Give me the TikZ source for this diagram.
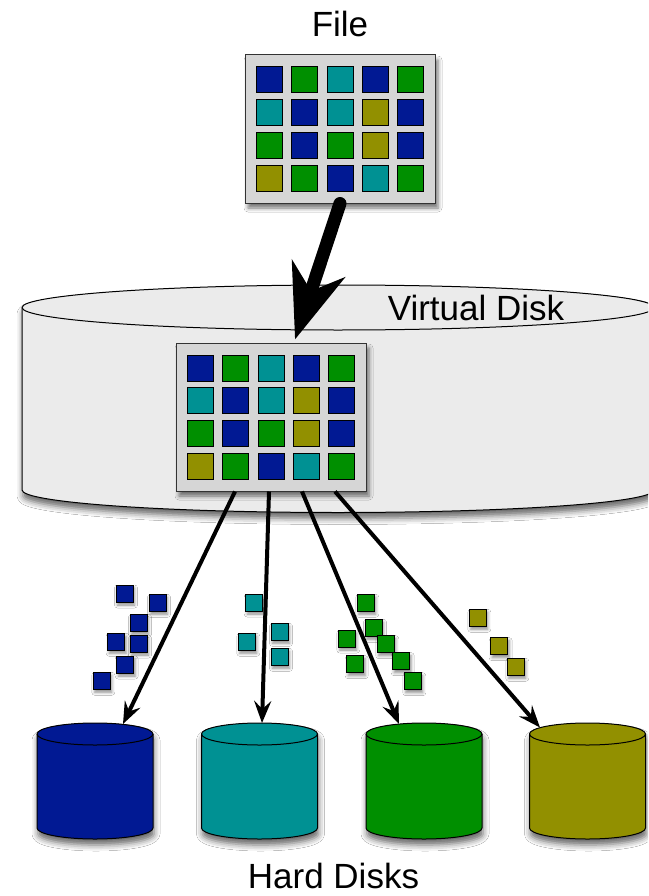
\documentclass[tikz,border=0pt]{standalone}
\usepackage{fontspec}
\setmainfont{Liberation Sans}
\usetikzlibrary{arrows.meta,calc,shadows.blur}

% block colours
\definecolor{cb}{RGB}{1,25,147}
\definecolor{ct}{RGB}{0,145,147}
\definecolor{cg}{RGB}{0,143,0}
\definecolor{co}{RGB}{146,144,0}
\definecolor{boxgray}{RGB}{214,214,214}
\definecolor{vdisk}{RGB}{235,235,235}

\tikzset{
  gridbox/.style={draw=black!80, line width=1pt, fill=boxgray,
    minimum width=190pt, minimum height=148pt, inner sep=0pt,
    blur shadow={shadow xshift=3pt, shadow yshift=-5pt, shadow blur radius=4pt, shadow opacity=55}},
  block/.style={draw=black, line width=1pt, minimum size=26pt, inner sep=0pt},
  chip/.style={draw=black, line width=1pt, minimum size=17pt, inner sep=0pt,
    blur shadow={shadow xshift=1.5pt, shadow yshift=-3pt, shadow blur radius=3pt, shadow opacity=45}},
  bigtext/.style={inner sep=0pt, font=\fontsize{35}{42}\selectfont},
  bigarrow/.style={line width=13pt, line cap=round,
    -{Stealth[length=74pt,width=55pt,inset=23pt]}},
  feed/.style={line width=4pt, -{Stealth[length=22pt,width=17pt,inset=8pt]}},
  diskshadow/.style={blur shadow={shadow xshift=1pt, shadow yshift=-6pt, shadow blur radius=6pt, shadow opacity=60}},
}

% a 4x5 grid of coloured blocks inside the box node #1
\newcommand\blockgrid[1]{%
  \foreach \cc [count=\k from 0] in {cb,cg,ct,cb,cg, ct,cb,ct,co,cb, cg,cb,cg,co,cb, co,cg,cb,ct,cg}{%
    \pgfmathtruncatemacro\gcol{mod(\k,5)}%
    \pgfmathtruncatemacro\grow{\k/5}%
    \node[block, fill=\cc] (#1-\grow-\gcol) at ($(#1)+({-70.6+35.3*\gcol},{-49+32.7*\grow})$) {};
  }}

% hard disk cylinder: name, centre x, colour
\newcommand\harddisk[3]{%
  \path[fill=#3, draw=black, line width=1pt, diskshadow]
    ({#2-58},734) -- ({#2-58},828)
    arc[start angle=180, end angle=0, x radius=58, y radius=11]
    -- ({#2+58},734)
    arc[start angle=0, end angle=-180, x radius=58, y radius=11] -- cycle;
  \draw[line width=1pt] ({#2-58},734) arc[start angle=180, end angle=0, x radius=58, y radius=11];
  \coordinate (#1) at (#2,734);
}

\begin{document}
\begin{tikzpicture}[x=1pt, y=-1pt]
\clip (0,0) rectangle (648,896);
\fill[white] (0,0) rectangle (648,896);

% virtual disk
\path[fill=vdisk, draw=black, line width=1pt, diskshadow]
  (22,307.5) -- (22,490)
  arc[start angle=180, end angle=0, x radius=316, y radius=22.5]
  -- (654,307.5)
  arc[start angle=0, end angle=-180, x radius=316, y radius=22.5] -- cycle;
\draw[line width=1pt] (22,307.5) arc[start angle=180, end angle=0, x radius=316, y radius=22.5];
\node[bigtext, anchor=base] (vdlbl) at (476,320) {Virtual Disk};

% file and its copy on the virtual disk
\node[gridbox] (file) at (340,129) {};
\blockgrid{file}
\node[gridbox] (vgrid) at (271,417) {};
\blockgrid{vgrid}
\node[bigtext, anchor=base] (filelbl) at (340,37) {File};

\draw[bigarrow] (file.south) -- ($(vgrid.north)+(24,-3)$);

% scattered blocks
\foreach \px/\py [count=\i] in {124.5/593.5, 157.5/602.8, 138.5/622.8, 116.2/641.8, 138.5/643.5, 125.2/664.5, 101.8/680.8}
  \node[chip, fill=cb] (sb\i) at (\px,\py) {};
\foreach \px/\py [count=\i] in {254.2/602.5, 279.5/631.8, 246.8/641.8, 279.5/656.8}
  \node[chip, fill=ct] (st\i) at (\px,\py) {};
\foreach \px/\py [count=\i] in {365.8/602.8, 373.5/627.8, 346.8/638.5, 385.8/644.2, 355.2/664.2, 401.2/661.2, 412.8/681.2}
  \node[chip, fill=cg] (sg\i) at (\px,\py) {};
\foreach \px/\py [count=\i] in {477.8/617.8, 499.2/646.2, 515.8/666.8}
  \node[chip, fill=co] (so\i) at (\px,\py) {};

% hard disks
\harddisk{hd1}{95}{cb}
\harddisk{hd2}{259.5}{ct}
\harddisk{hd3}{424}{cg}
\harddisk{hd4}{587.5}{co}
\node[bigtext, anchor=base] (hdlbl) at (333.5,888) {Hard Disks};

\draw[feed] ($(vgrid.south)+(-36,0)$) -- ($(hd1)+(28,-10)$);
\draw[feed] ($(vgrid.south)+(-2,0)$) -- ($(hd2)+(2.5,-11)$);
\draw[feed] ($(vgrid.south)+(31,0)$) -- ($(hd3)+(-25,-10)$);
\draw[feed] ($(vgrid.south)+(64,0)$) -- ($(hd4)+(-47.5,-6.5)$);
\end{tikzpicture}
\end{document}
